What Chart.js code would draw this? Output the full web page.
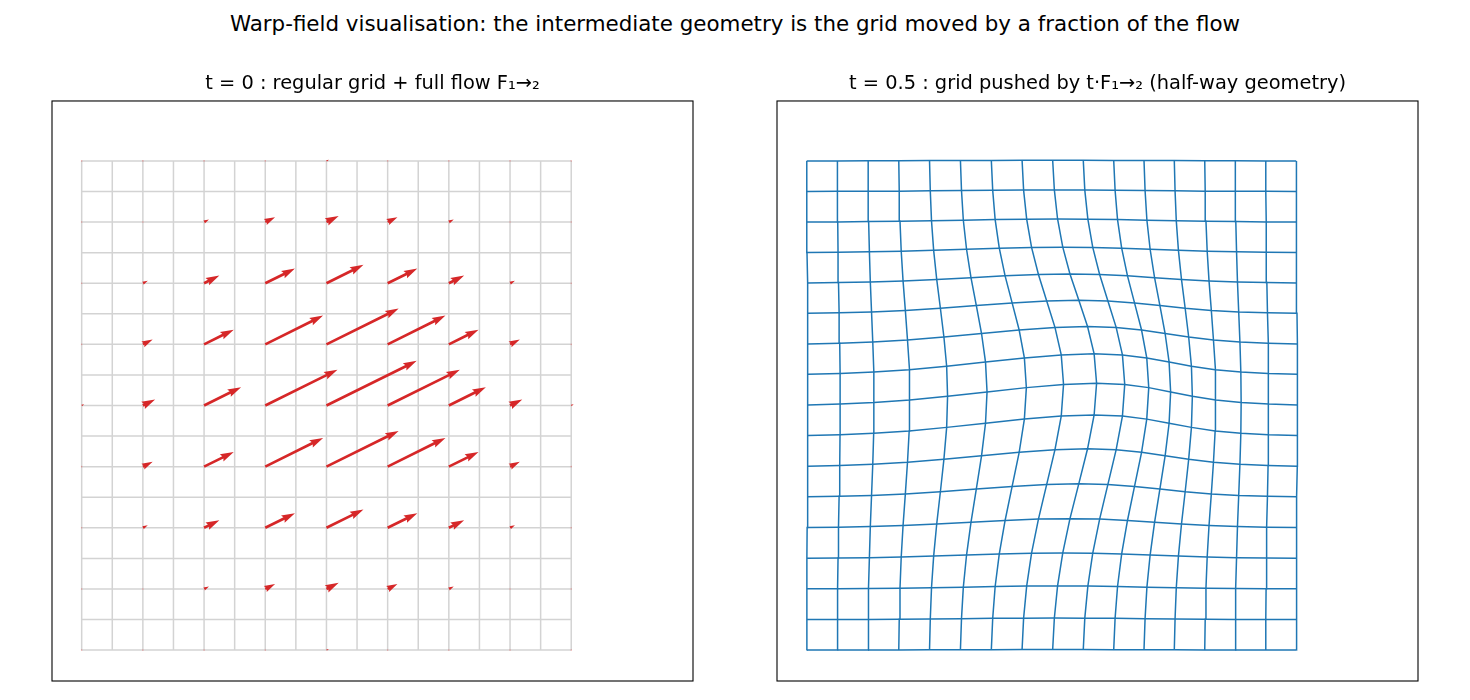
<!DOCTYPE html>
<html>
<head>
<meta charset="utf-8">
<script src="https://cdn.jsdelivr.net/npm/chart.js@4/dist/chart.umd.min.js"></script>
<style>
  body { margin: 0; background: #fff; width: 1470px; height: 700px; position: relative; overflow: hidden; }
  #suptitle { position: absolute; left: 0; top: 11px; width: 1470px; text-align: center;
              font-family: "DejaVu Sans", sans-serif; font-size: 21.4px; line-height: 26px; color: #000; }
  .panel { position: absolute; top: 60px; width: 645px; height: 623px; }
</style>
</head>
<body>
<div id="suptitle">Warp-field visualisation: the intermediate geometry is the grid moved by a fraction of the flow</div>
<div class="panel" style="left:50px"><canvas id="gridFlow"></canvas></div>
<div class="panel" style="left:775px"><canvas id="gridWarp"></canvas></div>
<script>
// grid node indices (same for x and y)
const gridIdx = [0, 1, 2, 3, 4, 5, 6, 7, 8, 9, 10, 11, 12, 13, 14, 15, 16];

// flow F1->2, x component, rows = y index 0..16, cols = x index 0..16 (grid units)
const flowU = [
  [0.00, 0.01, 0.01, 0.02, 0.03, 0.05, 0.07, 0.08, 0.08, 0.08, 0.07, 0.05, 0.03, 0.02, 0.01, 0.01, 0.00],
  [0.01, 0.01, 0.03, 0.05, 0.08, 0.12, 0.16, 0.18, 0.19, 0.18, 0.16, 0.12, 0.08, 0.05, 0.03, 0.01, 0.01],
  [0.01, 0.03, 0.05, 0.10, 0.16, 0.24, 0.32, 0.38, 0.40, 0.38, 0.32, 0.24, 0.16, 0.10, 0.05, 0.03, 0.01],
  [0.02, 0.05, 0.10, 0.18, 0.30, 0.45, 0.59, 0.70, 0.74, 0.70, 0.59, 0.45, 0.30, 0.18, 0.10, 0.05, 0.02],
  [0.03, 0.08, 0.16, 0.30, 0.50, 0.74, 0.97, 1.15, 1.21, 1.15, 0.97, 0.74, 0.50, 0.30, 0.16, 0.08, 0.03],
  [0.05, 0.12, 0.24, 0.45, 0.74, 1.09, 1.43, 1.69, 1.79, 1.69, 1.43, 1.09, 0.74, 0.45, 0.24, 0.12, 0.05],
  [0.07, 0.16, 0.32, 0.59, 0.97, 1.43, 1.89, 2.23, 2.36, 2.23, 1.89, 1.43, 0.97, 0.59, 0.32, 0.16, 0.07],
  [0.08, 0.18, 0.38, 0.70, 1.15, 1.69, 2.23, 2.64, 2.79, 2.64, 2.23, 1.69, 1.15, 0.70, 0.38, 0.18, 0.08],
  [0.08, 0.19, 0.40, 0.74, 1.21, 1.79, 2.36, 2.79, 2.95, 2.79, 2.36, 1.79, 1.21, 0.74, 0.40, 0.19, 0.08],
  [0.08, 0.18, 0.38, 0.70, 1.15, 1.69, 2.23, 2.64, 2.79, 2.64, 2.23, 1.69, 1.15, 0.70, 0.38, 0.18, 0.08],
  [0.07, 0.16, 0.32, 0.59, 0.97, 1.43, 1.89, 2.23, 2.36, 2.23, 1.89, 1.43, 0.97, 0.59, 0.32, 0.16, 0.07],
  [0.05, 0.12, 0.24, 0.45, 0.74, 1.09, 1.43, 1.69, 1.79, 1.69, 1.43, 1.09, 0.74, 0.45, 0.24, 0.12, 0.05],
  [0.03, 0.08, 0.16, 0.30, 0.50, 0.74, 0.97, 1.15, 1.21, 1.15, 0.97, 0.74, 0.50, 0.30, 0.16, 0.08, 0.03],
  [0.02, 0.05, 0.10, 0.18, 0.30, 0.45, 0.59, 0.70, 0.74, 0.70, 0.59, 0.45, 0.30, 0.18, 0.10, 0.05, 0.02],
  [0.01, 0.03, 0.05, 0.10, 0.16, 0.24, 0.32, 0.38, 0.40, 0.38, 0.32, 0.24, 0.16, 0.10, 0.05, 0.03, 0.01],
  [0.01, 0.01, 0.03, 0.05, 0.08, 0.12, 0.16, 0.18, 0.19, 0.18, 0.16, 0.12, 0.08, 0.05, 0.03, 0.01, 0.01],
  [0.00, 0.01, 0.01, 0.02, 0.03, 0.05, 0.07, 0.08, 0.08, 0.08, 0.07, 0.05, 0.03, 0.02, 0.01, 0.01, 0.00]
];

// flow F1->2, y component (up positive)
const flowV = [
  [0.00, 0.00, 0.01, 0.01, 0.02, 0.03, 0.03, 0.04, 0.04, 0.04, 0.03, 0.03, 0.02, 0.01, 0.01, 0.00, 0.00],
  [0.00, 0.01, 0.01, 0.02, 0.04, 0.06, 0.08, 0.09, 0.10, 0.09, 0.08, 0.06, 0.04, 0.02, 0.01, 0.01, 0.00],
  [0.01, 0.01, 0.03, 0.05, 0.08, 0.12, 0.16, 0.19, 0.20, 0.19, 0.16, 0.12, 0.08, 0.05, 0.03, 0.01, 0.01],
  [0.01, 0.02, 0.05, 0.09, 0.15, 0.22, 0.29, 0.34, 0.36, 0.34, 0.29, 0.22, 0.15, 0.09, 0.05, 0.02, 0.01],
  [0.02, 0.04, 0.08, 0.15, 0.25, 0.36, 0.48, 0.57, 0.60, 0.57, 0.48, 0.36, 0.25, 0.15, 0.08, 0.04, 0.02],
  [0.03, 0.06, 0.12, 0.22, 0.36, 0.54, 0.71, 0.84, 0.89, 0.84, 0.71, 0.54, 0.36, 0.22, 0.12, 0.06, 0.03],
  [0.03, 0.08, 0.16, 0.29, 0.48, 0.71, 0.94, 1.11, 1.17, 1.11, 0.94, 0.71, 0.48, 0.29, 0.16, 0.08, 0.03],
  [0.04, 0.09, 0.19, 0.34, 0.57, 0.84, 1.11, 1.31, 1.38, 1.31, 1.11, 0.84, 0.57, 0.34, 0.19, 0.09, 0.04],
  [0.04, 0.10, 0.20, 0.36, 0.60, 0.89, 1.17, 1.38, 1.46, 1.38, 1.17, 0.89, 0.60, 0.36, 0.20, 0.10, 0.04],
  [0.04, 0.09, 0.19, 0.34, 0.57, 0.84, 1.11, 1.31, 1.38, 1.31, 1.11, 0.84, 0.57, 0.34, 0.19, 0.09, 0.04],
  [0.03, 0.08, 0.16, 0.29, 0.48, 0.71, 0.94, 1.11, 1.17, 1.11, 0.94, 0.71, 0.48, 0.29, 0.16, 0.08, 0.03],
  [0.03, 0.06, 0.12, 0.22, 0.36, 0.54, 0.71, 0.84, 0.89, 0.84, 0.71, 0.54, 0.36, 0.22, 0.12, 0.06, 0.03],
  [0.02, 0.04, 0.08, 0.15, 0.25, 0.36, 0.48, 0.57, 0.60, 0.57, 0.48, 0.36, 0.25, 0.15, 0.08, 0.04, 0.02],
  [0.01, 0.02, 0.05, 0.09, 0.15, 0.22, 0.29, 0.34, 0.36, 0.34, 0.29, 0.22, 0.15, 0.09, 0.05, 0.02, 0.01],
  [0.01, 0.01, 0.03, 0.05, 0.08, 0.12, 0.16, 0.19, 0.20, 0.19, 0.16, 0.12, 0.08, 0.05, 0.03, 0.01, 0.01],
  [0.00, 0.01, 0.01, 0.02, 0.04, 0.06, 0.08, 0.09, 0.10, 0.09, 0.08, 0.06, 0.04, 0.02, 0.01, 0.01, 0.00],
  [0.00, 0.00, 0.01, 0.01, 0.02, 0.03, 0.03, 0.04, 0.04, 0.04, 0.03, 0.03, 0.02, 0.01, 0.01, 0.00, 0.00]
];

const arrowStep = 2;   // quiver drawn on every 2nd node
const tWarp = 0.5;     // fraction of the flow for the right panel

const titleLeft = "t = 0 : regular grid + full flow F\u2081\u2192\u2082";
const titleRight = "t = 0.5 : grid pushed by t\u00b7F\u2081\u2192\u2082 (half-way geometry)";

const xRange = [-0.97, 19.98];
const yRange = [-1.01, 17.96];

// frame around the axes (matplotlib spines)
const framePlugin = {
    id: "frame",
    afterDraw(chart) {
        const a = chart.chartArea, ctx = chart.ctx;
        ctx.save();
        ctx.strokeStyle = "#000";
        ctx.lineWidth = 1.1;
        ctx.strokeRect(a.left, a.top, a.right - a.left, a.bottom - a.top);
        ctx.restore();
    }
};

// quiver arrows: start from the point element, end from the scales
const quiverPlugin = {
    id: "quiver",
    afterDatasetsDraw(chart) {
        const ctx = chart.ctx, xs = chart.scales.x, ys = chart.scales.y, a = chart.chartArea;
        chart.data.datasets.forEach((ds, k) => {
            if (!ds.quiver) return;
            const meta = chart.getDatasetMeta(k);
            ctx.save();
            ctx.beginPath();
            ctx.rect(a.left, a.top, a.right - a.left, a.bottom - a.top);
            ctx.clip();
            ctx.fillStyle = ds.arrowColor;
            const w = 2.7, hw = w / 2, HL = 5 * w, HAL = 4.5 * w, HW = 1.5 * w;
            ds.data.forEach((p, n) => {
                const x0 = meta.data[n].x, y0 = meta.data[n].y;
                const x1 = xs.getPixelForValue(p.x + p.u), y1 = ys.getPixelForValue(p.y + p.v);
                const L = Math.hypot(x1 - x0, y1 - y0);
                ctx.beginPath();
                if (L < w) {
                    ctx.globalAlpha = 0.35;
                    ctx.arc(x0, y0, 0.8, 0, Math.PI * 2);
                    ctx.fill();
                    ctx.globalAlpha = 1;
                    return;
                }
                const ux = (x1 - x0) / L, uy = (y1 - y0) / L, nx = -uy, ny = ux;
                const s = Math.min(1, L / HL);
                const P = (al, b) => [x0 + ux * al + nx * b, y0 + uy * al + ny * b];
                const pts = [
                    P(0, hw * s), P(L - HAL * s, hw * s), P(L - HL * s, HW * s), P(L, 0),
                    P(L - HL * s, -HW * s), P(L - HAL * s, -hw * s), P(0, -hw * s)
                ];
                ctx.moveTo(pts[0][0], pts[0][1]);
                pts.slice(1).forEach(q => ctx.lineTo(q[0], q[1]));
                ctx.closePath();
                ctx.fill();
            });
            ctx.restore();
        });
    }
};

function lineSet(points, color, width) {
    return {
        type: "scatter",
        data: points,
        showLine: true,
        borderColor: color,
        borderWidth: width,
        pointRadius: 0,
        tension: 0,
        fill: false
    };
}

function baseOptions(title) {
    return {
        responsive: true,
        maintainAspectRatio: false,
        animation: false,
        layout: { padding: { left: 2, right: 2, top: 0, bottom: 2 } },
        scales: {
            x: { type: "linear", min: xRange[0], max: xRange[1], display: false },
            y: { type: "linear", min: yRange[0], max: yRange[1], display: false }
        },
        plugins: {
            legend: { display: false },
            tooltip: { enabled: false },
            title: {
                display: true,
                text: title,
                color: "#000",
                font: { family: "DejaVu Sans", size: 19.4, weight: "normal", lineHeight: 1.2 },
                padding: { top: 12.8, bottom: 4.9 }
            }
        }
    };
}

// left panel: regular grid + full flow
const leftSets = [];
gridIdx.forEach(j => {
    leftSets.push(lineSet([{ x: gridIdx[0], y: j }, { x: gridIdx[gridIdx.length - 1], y: j }], "#d3d3d3", 1.5));
});
gridIdx.forEach(i => {
    leftSets.push(lineSet([{ x: i, y: gridIdx[0] }, { x: i, y: gridIdx[gridIdx.length - 1] }], "#d3d3d3", 1.5));
});
const arrows = [];
gridIdx.filter(j => j % arrowStep === 0).forEach(j => {
    gridIdx.filter(i => i % arrowStep === 0).forEach(i => {
        arrows.push({ x: i, y: j, u: flowU[j][i], v: flowV[j][i] });
    });
});
leftSets.push({ type: "scatter", data: arrows, pointRadius: 0, quiver: true, arrowColor: "#d62728" });

new Chart(document.getElementById("gridFlow"), {
    type: "scatter",
    data: { datasets: leftSets },
    options: baseOptions(titleLeft),
    plugins: [quiverPlugin, framePlugin]
});

// right panel: grid moved by t * flow
const rightSets = [];
gridIdx.forEach(j => {
    rightSets.push(lineSet(gridIdx.map(i => ({ x: i + tWarp * flowU[j][i], y: j + tWarp * flowV[j][i] })), "#1f77b4", 1.5));
});
gridIdx.forEach(i => {
    rightSets.push(lineSet(gridIdx.map(j => ({ x: i + tWarp * flowU[j][i], y: j + tWarp * flowV[j][i] })), "#1f77b4", 1.5));
});

new Chart(document.getElementById("gridWarp"), {
    type: "scatter",
    data: { datasets: rightSets },
    options: baseOptions(titleRight),
    plugins: [framePlugin]
});
</script>
</body>
</html>
